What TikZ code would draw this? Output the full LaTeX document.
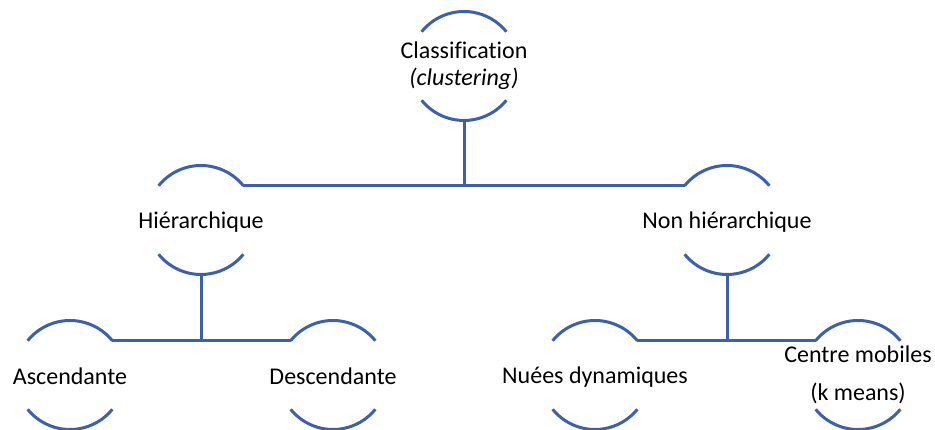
\documentclass[tikz,border=0pt]{standalone}
\usepackage{fontspec}
\setmainfont[Ligatures=NoCommon]{Carlito}
\usepackage{tikz}
\usetikzlibrary{positioning,calc}

\definecolor{linkblue}{RGB}{61,96,170}

\begin{document}
\begin{tikzpicture}[x=1pt, y=1pt,
    ring/.style={circle, minimum size=109pt, inner sep=0pt, outer sep=0pt},
    topic/.style={align=center, inner sep=0pt, font=\fontsize{24}{27}\selectfont},
    link/.style={draw=linkblue, line width=3pt},
  ]
  \useasboundingbox (0,0) rectangle (935,430);

  % rings
  \node[ring] (cls)    at (464,364) {};
  \node[ring] (hier)   at (201,210) {};
  \node[ring] (nonh)   at (727,210) {};
  \node[ring] (asc)    at (70,55)   {};
  \node[ring] (desc)   at (333,55)  {};
  \node[ring] (nuee)   at (595,55)  {};
  \node[ring] (centre) at (858,55)  {};

  % texts
  \node[topic] (clsT)    at (cls)    {Classification\\\textit{(clustering)}};
  \node[topic] (hierT)   at ([yshift=-2pt]hier.center)   {Hiérarchique};
  \node[topic] (nonhT)   at ([yshift=-2pt]nonh.center)   {Non hiérarchique};
  \node[topic] (ascT)    at ([yshift=-1pt]asc.center)    {Ascendante};
  \node[topic] (descT)   at ([yshift=-1pt]desc.center)   {Descendante};
  \node[topic] (nueeT)   at ([yshift=-2pt]nuee.center)   {Nuées dynamiques};
  \node[topic, font=\fontsize{24}{38}\selectfont] (centreT) at (centre)
    {Centre mobiles\\(k means)};

  % upper and lower arcs of each ring
  \foreach \n in {cls,hier,nonh,asc,desc,nuee,centre} {
    \draw[link] (\n.141) arc[start angle=141, end angle=39, radius=54.5pt];
    \draw[link] (\n.219) arc[start angle=219, end angle=321, radius=54.5pt];
  }

  % connectors
  \draw[link] (cls.south) -- (cls.south |- hier.39);
  \draw[link] (hier.39) -- (nonh.141);
  \draw[link] (hier.south) -- (hier.south |- asc.39);
  \draw[link] (asc.39) -- (desc.141);
  \draw[link] (nonh.south) -- (nonh.south |- nuee.39);
  \draw[link] (nuee.39) -- (centre.141);
\end{tikzpicture}
\end{document}
